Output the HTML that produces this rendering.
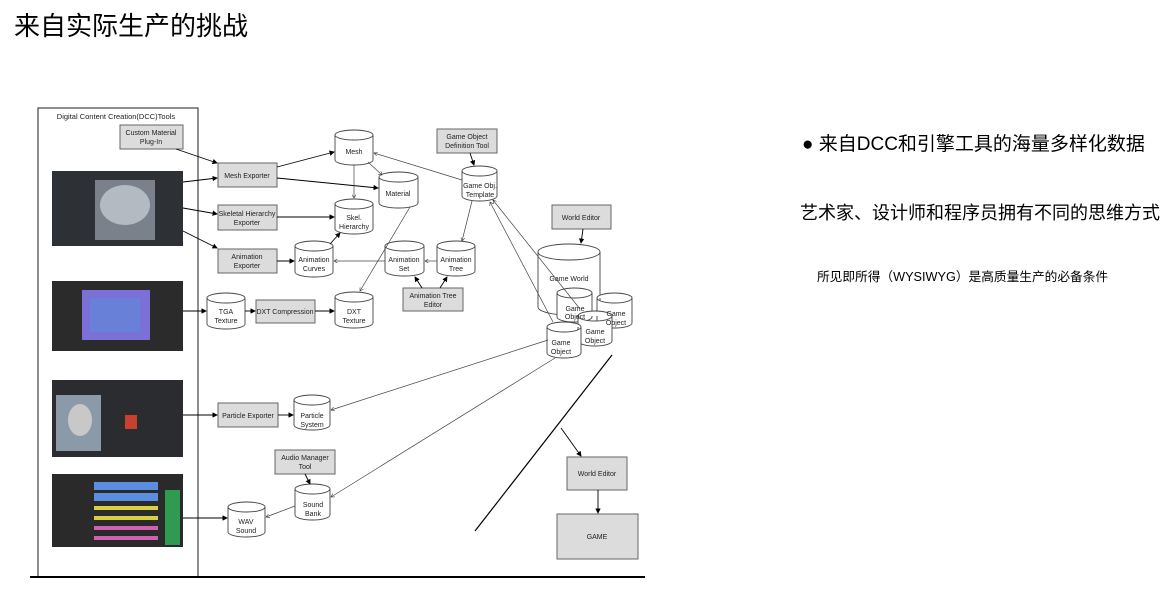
<!DOCTYPE html>
<html><head><meta charset="utf-8"><style>
html,body{margin:0;padding:0;background:#fff;}
body{width:1169px;height:589px;overflow:hidden;position:relative;font-family:"Liberation Sans","Noto Sans CJK SC",sans-serif;}
.t{position:absolute;white-space:nowrap;color:#000;}
svg text{font-family:"Liberation Sans",sans-serif;font-size:7px;fill:#222;text-anchor:middle;}
</style></head><body>
<div class="t" style="left:14px;top:6px;font-size:26px;">来自实际生产的挑战</div>
<div class="t" style="left:802px;top:129px;font-size:19px;">● 来自DCC和引擎工具的海量多样化数据</div>
<div class="t" style="left:800px;top:199px;font-size:18px;">艺术家、设计师和程序员拥有不同的思维方式</div>
<div class="t" style="left:817px;top:266px;font-size:12.7px;">所见即所得（WYSIWYG）是高质量生产的必备条件</div>
<svg width="1169" height="589" style="position:absolute;left:0;top:0">
<defs>
<marker id="a" markerWidth="6" markerHeight="6" refX="5" refY="3" orient="auto"><path d="M0,0 L6,3 L0,6 z" fill="#000"/></marker>
<marker id="o" markerWidth="6" markerHeight="6" refX="5" refY="3" orient="auto"><path d="M0,0 L5,3 L0,6" fill="none" stroke="#333" stroke-width="0.8"/></marker>
</defs>
<rect x="38" y="108" width="160" height="469" fill="none" stroke="#444" stroke-width="1.2"/>
<text x="116" y="119" style="font-size:7.5px">Digital Content Creation(DCC)Tools</text>
<line x1="30" y1="577" x2="645" y2="577" stroke="#000" stroke-width="2"/>
<rect x="52" y="171" width="131" height="75" fill="#2d3035"/>
<rect x="95" y="180" width="60" height="60" fill="#7b818a"/>
<ellipse cx="125" cy="205" rx="25" ry="20" fill="#b4bac2"/>
<rect x="52" y="281" width="131" height="70" fill="#2b2b2b"/>
<rect x="82" y="290" width="68" height="50" fill="#7a70d8"/>
<rect x="90" y="298" width="50" height="34" fill="#5c8ad8" opacity="0.6"/>
<rect x="52" y="380" width="131" height="77" fill="#2a2c30"/>
<rect x="56" y="395" width="45" height="56" fill="#8a9aa8"/>
<ellipse cx="80" cy="420" rx="12" ry="16" fill="#c8c8c8"/>
<rect x="125" y="415" width="12" height="14" fill="#c84030"/>
<rect x="52" y="474" width="131" height="73" fill="#2a2a2a"/>
<rect x="94" y="482" width="64" height="8" fill="#5b8ee0"/>
<rect x="94" y="493" width="64" height="8" fill="#5b8ee0"/>
<rect x="94" y="506" width="64" height="4" fill="#d8d040"/>
<rect x="94" y="516" width="64" height="4" fill="#d8d040"/>
<rect x="94" y="526" width="64" height="4" fill="#d060b0"/>
<rect x="94" y="536" width="64" height="4" fill="#d060b0"/>
<rect x="165" y="490" width="15" height="55" fill="#2f9a50"/>
<g fill="#dcdcdc" stroke="#666" stroke-width="1">
<rect x="120" y="125" width="63" height="24"/>
<rect x="218" y="163" width="59" height="24"/>
<rect x="218" y="205" width="59" height="25"/>
<rect x="218" y="249" width="59" height="24"/>
<rect x="256" y="300" width="59" height="23"/>
<rect x="403" y="288" width="60" height="23"/>
<rect x="437" y="129" width="60" height="24"/>
<rect x="552" y="205" width="59" height="24"/>
<rect x="218" y="403" width="60" height="24"/>
<rect x="275" y="450" width="60" height="24"/>
<rect x="567" y="457" width="60" height="33"/>
<rect x="557" y="514" width="81" height="45"/>
</g>
<text x="151" y="135">Custom Material</text><text x="151" y="144">Plug-In</text>
<text x="247" y="178">Mesh Exporter</text>
<text x="247" y="216">Skeletal Hierarchy</text><text x="247" y="225">Exporter</text>
<text x="247" y="259">Animation</text><text x="247" y="268">Exporter</text>
<text x="285" y="314">DXT Compression</text>
<text x="433" y="298">Animation Tree</text><text x="433" y="307">Editor</text>
<text x="467" y="139">Game Object</text><text x="467" y="148">Definition Tool</text>
<text x="581" y="220">World Editor</text>
<text x="248" y="418">Particle Exporter</text>
<text x="305" y="460">Audio Manager</text><text x="305" y="469">Tool</text>
<text x="597" y="476">World Editor</text>
<text x="597" y="539">GAME</text>
<g fill="#fff" stroke="#444" stroke-width="0.9">
<path d="M335 135 a19 5 0 0 1 38 0 v25 a19 5 0 0 1 -38 0 z M335 135 a19 5 0 0 0 38 0"/>
<path d="M379 177 a19.5 5 0 0 1 39 0 v26 a19.5 5 0 0 1 -39 0 z M379 177 a19.5 5 0 0 0 39 0"/>
<path d="M335 204 a19 5 0 0 1 38 0 v25 a19 5 0 0 1 -38 0 z M335 204 a19 5 0 0 0 38 0"/>
<path d="M295 246 a19 5 0 0 1 38 0 v26 a19 5 0 0 1 -38 0 z M295 246 a19 5 0 0 0 38 0"/>
<path d="M385 246 a19.5 5 0 0 1 39 0 v25 a19.5 5 0 0 1 -39 0 z M385 246 a19.5 5 0 0 0 39 0"/>
<path d="M437 246 a19 5 0 0 1 38 0 v25 a19 5 0 0 1 -38 0 z M437 246 a19 5 0 0 0 38 0"/>
<path d="M207 298 a19 5 0 0 1 38 0 v26 a19 5 0 0 1 -38 0 z M207 298 a19 5 0 0 0 38 0"/>
<path d="M335 297 a19 5 0 0 1 38 0 v26 a19 5 0 0 1 -38 0 z M335 297 a19 5 0 0 0 38 0"/>
<path d="M462 171 a17.5 5 0 0 1 35 0 v25 a17.5 5 0 0 1 -35 0 z M462 171 a17.5 5 0 0 0 35 0"/>
<path d="M538 252 a31 8 0 0 1 62 0 v55 a31 8 0 0 1 -62 0 z M538 252 a31 8 0 0 0 62 0"/>
<path d="M557 293 a17.5 5 0 0 1 35 0 v24 a17.5 5 0 0 1 -35 0 z M557 293 a17.5 5 0 0 0 35 0"/>
<path d="M597 298 a17.5 5 0 0 1 35 0 v25 a17.5 5 0 0 1 -35 0 z M597 298 a17.5 5 0 0 0 35 0"/>
<path d="M578 316 a17 5 0 0 1 34 0 v25 a17 5 0 0 1 -34 0 z M578 316 a17 5 0 0 0 34 0"/>
<path d="M547 327 a17 5 0 0 1 34 0 v26 a17 5 0 0 1 -34 0 z M547 327 a17 5 0 0 0 34 0"/>
<path d="M294 400 a18 5 0 0 1 36 0 v25 a18 5 0 0 1 -36 0 z M294 400 a18 5 0 0 0 36 0"/>
<path d="M295 489 a17.5 5 0 0 1 35 0 v26 a17.5 5 0 0 1 -35 0 z M295 489 a17.5 5 0 0 0 35 0"/>
<path d="M228 507 a18.5 5 0 0 1 37 0 v25 a18.5 5 0 0 1 -37 0 z M228 507 a18.5 5 0 0 0 37 0"/>
</g>
<text x="354" y="154">Mesh</text>
<text x="398" y="196">Material</text>
<text x="354" y="220">Skel.</text><text x="354" y="229">Hierarchy</text>
<text x="314" y="262">Animation</text><text x="314" y="271">Curves</text>
<text x="404" y="262">Animation</text><text x="404" y="271">Set</text>
<text x="456" y="262">Animation</text><text x="456" y="271">Tree</text>
<text x="226" y="314">TGA</text><text x="226" y="323">Texture</text>
<text x="354" y="314">DXT</text><text x="354" y="323">Texture</text>
<text x="480" y="188">Game Obj.</text><text x="480" y="197">Template</text>
<text x="569" y="281">Game World</text>
<text x="575" y="311">Game</text><text x="575" y="319">Object</text>
<text x="616" y="316">Game</text><text x="616" y="325">Object</text>
<text x="595" y="334">Game</text><text x="595" y="343">Object</text>
<text x="561" y="345">Game</text><text x="561" y="354">Object</text>
<text x="312" y="418">Particle</text><text x="312" y="427">System</text>
<text x="313" y="507">Sound</text><text x="313" y="516">Bank</text>
<text x="246" y="524">WAV</text><text x="246" y="533">Sound</text>
<g stroke="#000" stroke-width="0.9" fill="none" marker-end="url(#a)">
<line x1="176" y1="149" x2="217" y2="163"/>
<line x1="183" y1="182" x2="217" y2="178"/>
<line x1="277" y1="167" x2="334" y2="152"/>
<line x1="277" y1="178" x2="378" y2="188"/>
<line x1="183" y1="208" x2="217" y2="214"/>
<line x1="277" y1="217" x2="334" y2="217"/>
<line x1="183" y1="231" x2="217" y2="248"/>
<line x1="277" y1="261" x2="294" y2="261"/>
<line x1="183" y1="311" x2="206" y2="311"/>
<line x1="245" y1="311" x2="255" y2="311"/>
<line x1="315" y1="311" x2="334" y2="311"/>
<line x1="330" y1="244" x2="340" y2="233"/>
<line x1="470" y1="153" x2="474" y2="165"/>
<line x1="583" y1="229" x2="581" y2="243"/>
<line x1="422" y1="288" x2="415" y2="277"/>
<line x1="440" y1="288" x2="447" y2="277"/>
<line x1="183" y1="415" x2="217" y2="415"/>
<line x1="278" y1="415" x2="293" y2="415"/>
<line x1="183" y1="518" x2="227" y2="518"/>
<line x1="305" y1="474" x2="310" y2="484"/>
<line x1="561" y1="428" x2="581" y2="456"/>
<line x1="598" y1="490" x2="598" y2="513"/>
</g>
<g stroke="#444" stroke-width="0.7" fill="none" marker-end="url(#o)">
<line x1="354" y1="165" x2="354" y2="198"/>
<line x1="368" y1="162" x2="382" y2="175"/>
<line x1="410" y1="207" x2="360" y2="291"/>
<line x1="385" y1="261" x2="334" y2="261"/>
<line x1="437" y1="261" x2="425" y2="261"/>
<line x1="462" y1="180" x2="374" y2="153"/>
<line x1="472" y1="201" x2="462" y2="241"/>
<line x1="553" y1="322" x2="490" y2="202"/>
<line x1="580" y1="309" x2="493" y2="200"/>
<line x1="548" y1="340" x2="331" y2="410"/>
<line x1="555" y1="358" x2="331" y2="497"/>
<line x1="295" y1="506" x2="266" y2="517"/>
</g>
<line x1="475" y1="531" x2="612" y2="355" stroke="#000" stroke-width="1.2"/>
</svg>
</body></html>
